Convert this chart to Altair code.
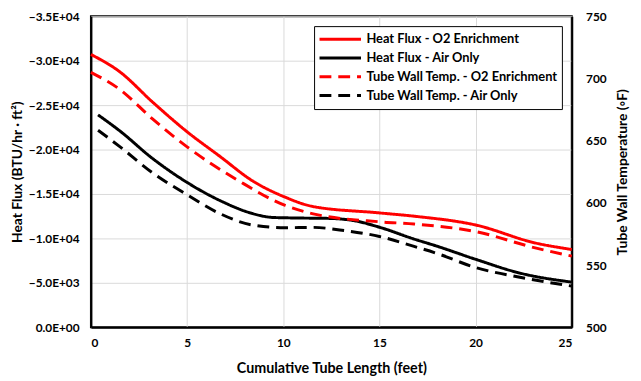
import altair as alt
import pandas as pd

# Heat flux (BTU/hr·ft²), left axis
x_flux_o2 = [0, 1.5, 3.2, 5, 6.7, 8.4, 10.1, 11.5, 15, 16.8, 20, 23.1, 25]
v_flux_o2 = [-30700, -28750, -25350, -22000, -19240, -16480, -14640, -13610, -12870, -12500, -11510, -9490, -8750]

x_flux_air = [0.37, 1.5, 3.2, 5, 6.7, 8.4, 9.45, 10.6, 12.4, 13.7, 15, 16.8, 18, 20, 22.3, 25]
v_flux_air = [-23900, -22100, -19000, -16300, -14270, -12800, -12360, -12300, -12250, -11990, -11260, -9930, -9120, -7650, -6100, -5080]

# Tube wall temperature (°F), right axis
x_temp_o2 = [0, 1.5, 3.2, 5, 7.7, 10.1, 11.5, 15, 16.8, 20, 23.1, 25]
v_temp_o2 = [704.9, 691.2, 667.5, 645, 617.6, 597.9, 591.4, 584.8, 583, 576.9, 563.8, 557.2]

x_temp_air = [0.37, 1.5, 3.2, 5, 6.7, 8.4, 10.1, 11.5, 13.2, 15, 16.8, 18, 20, 22.3, 25]
v_temp_air = [658.4, 645.2, 624.2, 606.5, 591.4, 582.2, 580, 580.3, 577.7, 573, 565, 559.3, 548, 540.2, 533.1]

series_order = [
    "Heat Flux - O2 Enrichment",
    "Heat Flux - Air Only",
    "Tube Wall Temp. - O2 Enrichment",
    "Tube Wall Temp. - Air Only",
]
x_ticks = [0, 5, 10, 15, 20, 25]
flux_ticks = [0, -5000, -10000, -15000, -20000, -25000, -30000, -35000]
temp_ticks = [500, 550, 600, 650, 700, 750]

rows = []
for xs, vs, name, kind in [
    (x_flux_o2, v_flux_o2, series_order[0], "flux"),
    (x_flux_air, v_flux_air, series_order[1], "flux"),
    (x_temp_o2, v_temp_o2, series_order[2], "temp"),
    (x_temp_air, v_temp_air, series_order[3], "temp"),
]:
    for a, b in zip(xs, vs):
        rows.append({"x": a, "value": b, "series": name, "kind": kind})
df = pd.DataFrame(rows)

FONT = "Lato"

legend = alt.Legend(
    title=None, orient="none", legendX=226, legendY=10,
    strokeColor="black", fillColor="white", padding=4, rowPadding=0,
    clipHeight=18.7,
    labelFont=FONT, labelFontWeight="bold", labelFontSize=13, labelColor="black",
    symbolType="stroke", symbolSize=1764, symbolStrokeWidth=3, labelOffset=4,
    cornerRadius=0, labelLimit=400,
)
color = alt.Color("series:N", scale=alt.Scale(domain=series_order,
                  range=["#ff0000", "#000000", "#ff0000", "#000000"]), legend=legend)
dash = alt.StrokeDash("series:N", scale=alt.Scale(domain=series_order,
                      range=[[1, 0], [1, 0], [12, 7], [12, 7]]), legend=legend)

x_enc = alt.X("x:Q", scale=alt.Scale(domain=[0, 25], nice=False),
              axis=alt.Axis(values=x_ticks, title="Cumulative Tube Length (feet)",
                            grid=True, ticks=False, labelPadding=10,
                            titleY=42, titleBaseline="middle"))

flux = alt.Chart(df).transform_filter(alt.datum.kind == "flux").mark_line(
    strokeWidth=3, interpolate="monotone"
).encode(
    x=x_enc,
    y=alt.Y("value:Q", scale=alt.Scale(domain=[-35000, 0], reverse=True, nice=False),
            axis=alt.Axis(values=flux_ticks, orient="left", grid=True, ticks=False,
                          labelPadding=12,
                          labelExpr="replace(replace(replace(format(datum.value, '.1e'), 'e+4', 'E+04'), 'e+3', 'E+03'), 'e+0', 'E+00')",
                          title="Heat Flux (BTU/hr · ft²)", titleFontSize=14,
                          titleX=-74, titleAngle=270, titleBaseline="middle")),
    color=color, strokeDash=dash,
)

temp = alt.Chart(df).transform_filter(alt.datum.kind == "temp").mark_line(
    strokeWidth=3, interpolate="monotone"
).encode(
    x=x_enc,
    y=alt.Y("value:Q", scale=alt.Scale(domain=[500, 750], nice=False),
            axis=alt.Axis(values=temp_ticks, orient="right", grid=False, ticks=False,
                          labelPadding=14,
                          title="Tube Wall Temperature (◦F)", titleFontSize=14,
                          titleX=51, titleAngle=270, titleBaseline="middle")),
    color=color, strokeDash=dash,
)

chart = alt.layer(flux, temp).resolve_scale(y="independent").properties(
    width=487, height=315,
    autosize=alt.AutoSizeParams(type="none"),
    padding={"left": 84, "top": 6, "right": 62, "bottom": 48},
).configure_view(stroke="black", strokeWidth=2).configure_axis(
    labelFont=FONT, labelFontWeight="bold", labelFontSize=12, labelColor="black",
    titleFont=FONT, titleFontWeight="bold", titleFontSize=14.5, titleColor="black",
    domainColor="black", domainWidth=2, gridColor="#d9d9d9", gridWidth=1,
)

chart.save("out.html", embed_options={"renderer": "svg", "actions": False})
